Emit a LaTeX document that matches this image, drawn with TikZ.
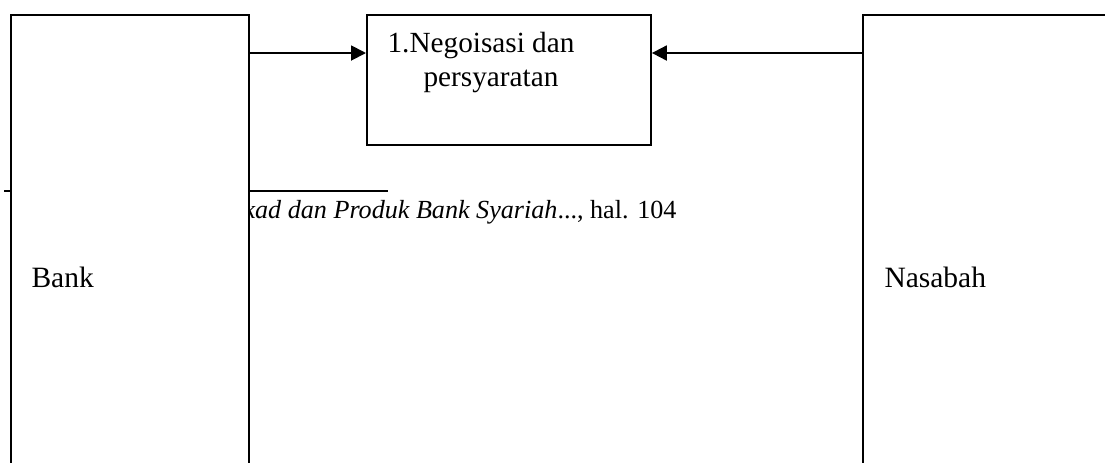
\documentclass[tikz,border=0pt]{standalone}
\usepackage{fontspec}
\setmainfont{Liberation Serif}
\usetikzlibrary{arrows.meta}

\tikzset{
  pihak/.style={draw=black, line width=0.75pt, fill=white, anchor=north west,
    inner sep=0pt, minimum width=#1, minimum height=210pt},
  proses/.style={draw=black, line width=0.75pt, fill=white, anchor=north west,
    inner sep=0pt, minimum width=113.6pt, minimum height=52pt},
  nama/.style={anchor=base west, inner sep=0pt, font=\fontsize{11.8}{14}\selectfont},
  isi/.style={anchor=base, inner sep=0pt, align=center, font=\fontsize{11.7}{13.6}\selectfont},
  alur/.style={line width=0.75pt, -{Triangle[length=6pt, width=6pt]}}
}

\begin{document}
\begin{tikzpicture}[x=0.4pt, y=-0.4pt]

\useasboundingbox (0,0) rectangle (1105,462);
\clip (0,0) rectangle (1105,462);

\coordinate (lvl) at (0,53);
\coordinate (garis) at (4,191);
\coordinate (garisend) at (388,191);

% footnote yang tertutup kotak Bank
\draw[line width=0.65pt] (garis) -- (garisend);
\node[anchor=base east, inner sep=0pt, font=\fontsize{10.45}{12}\selectfont] (catatan) at (677,218)
  {\textit{kad dan Produk Bank Syariah}..., hal. 104};

\node[pihak=95.2pt] (bank) at (10,14) {};
\node[pihak=120pt] (nasabah) at (862,14) {};
\node[proses] (nego) at (366,14) {};

\node[nama] (banklbl) at (31,287) {Bank};
\node[nama] (nasabahlbl) at (884,287) {Nasabah};
\node[isi] (negotxt) at (481,86) {1.Negoisasi dan\\\hspace*{8pt}persyaratan};

\draw[alur] (bank.east |- lvl) -- (nego.west |- lvl);
\draw[alur] (nasabah.west |- lvl) -- (nego.east |- lvl);

\end{tikzpicture}
\end{document}
